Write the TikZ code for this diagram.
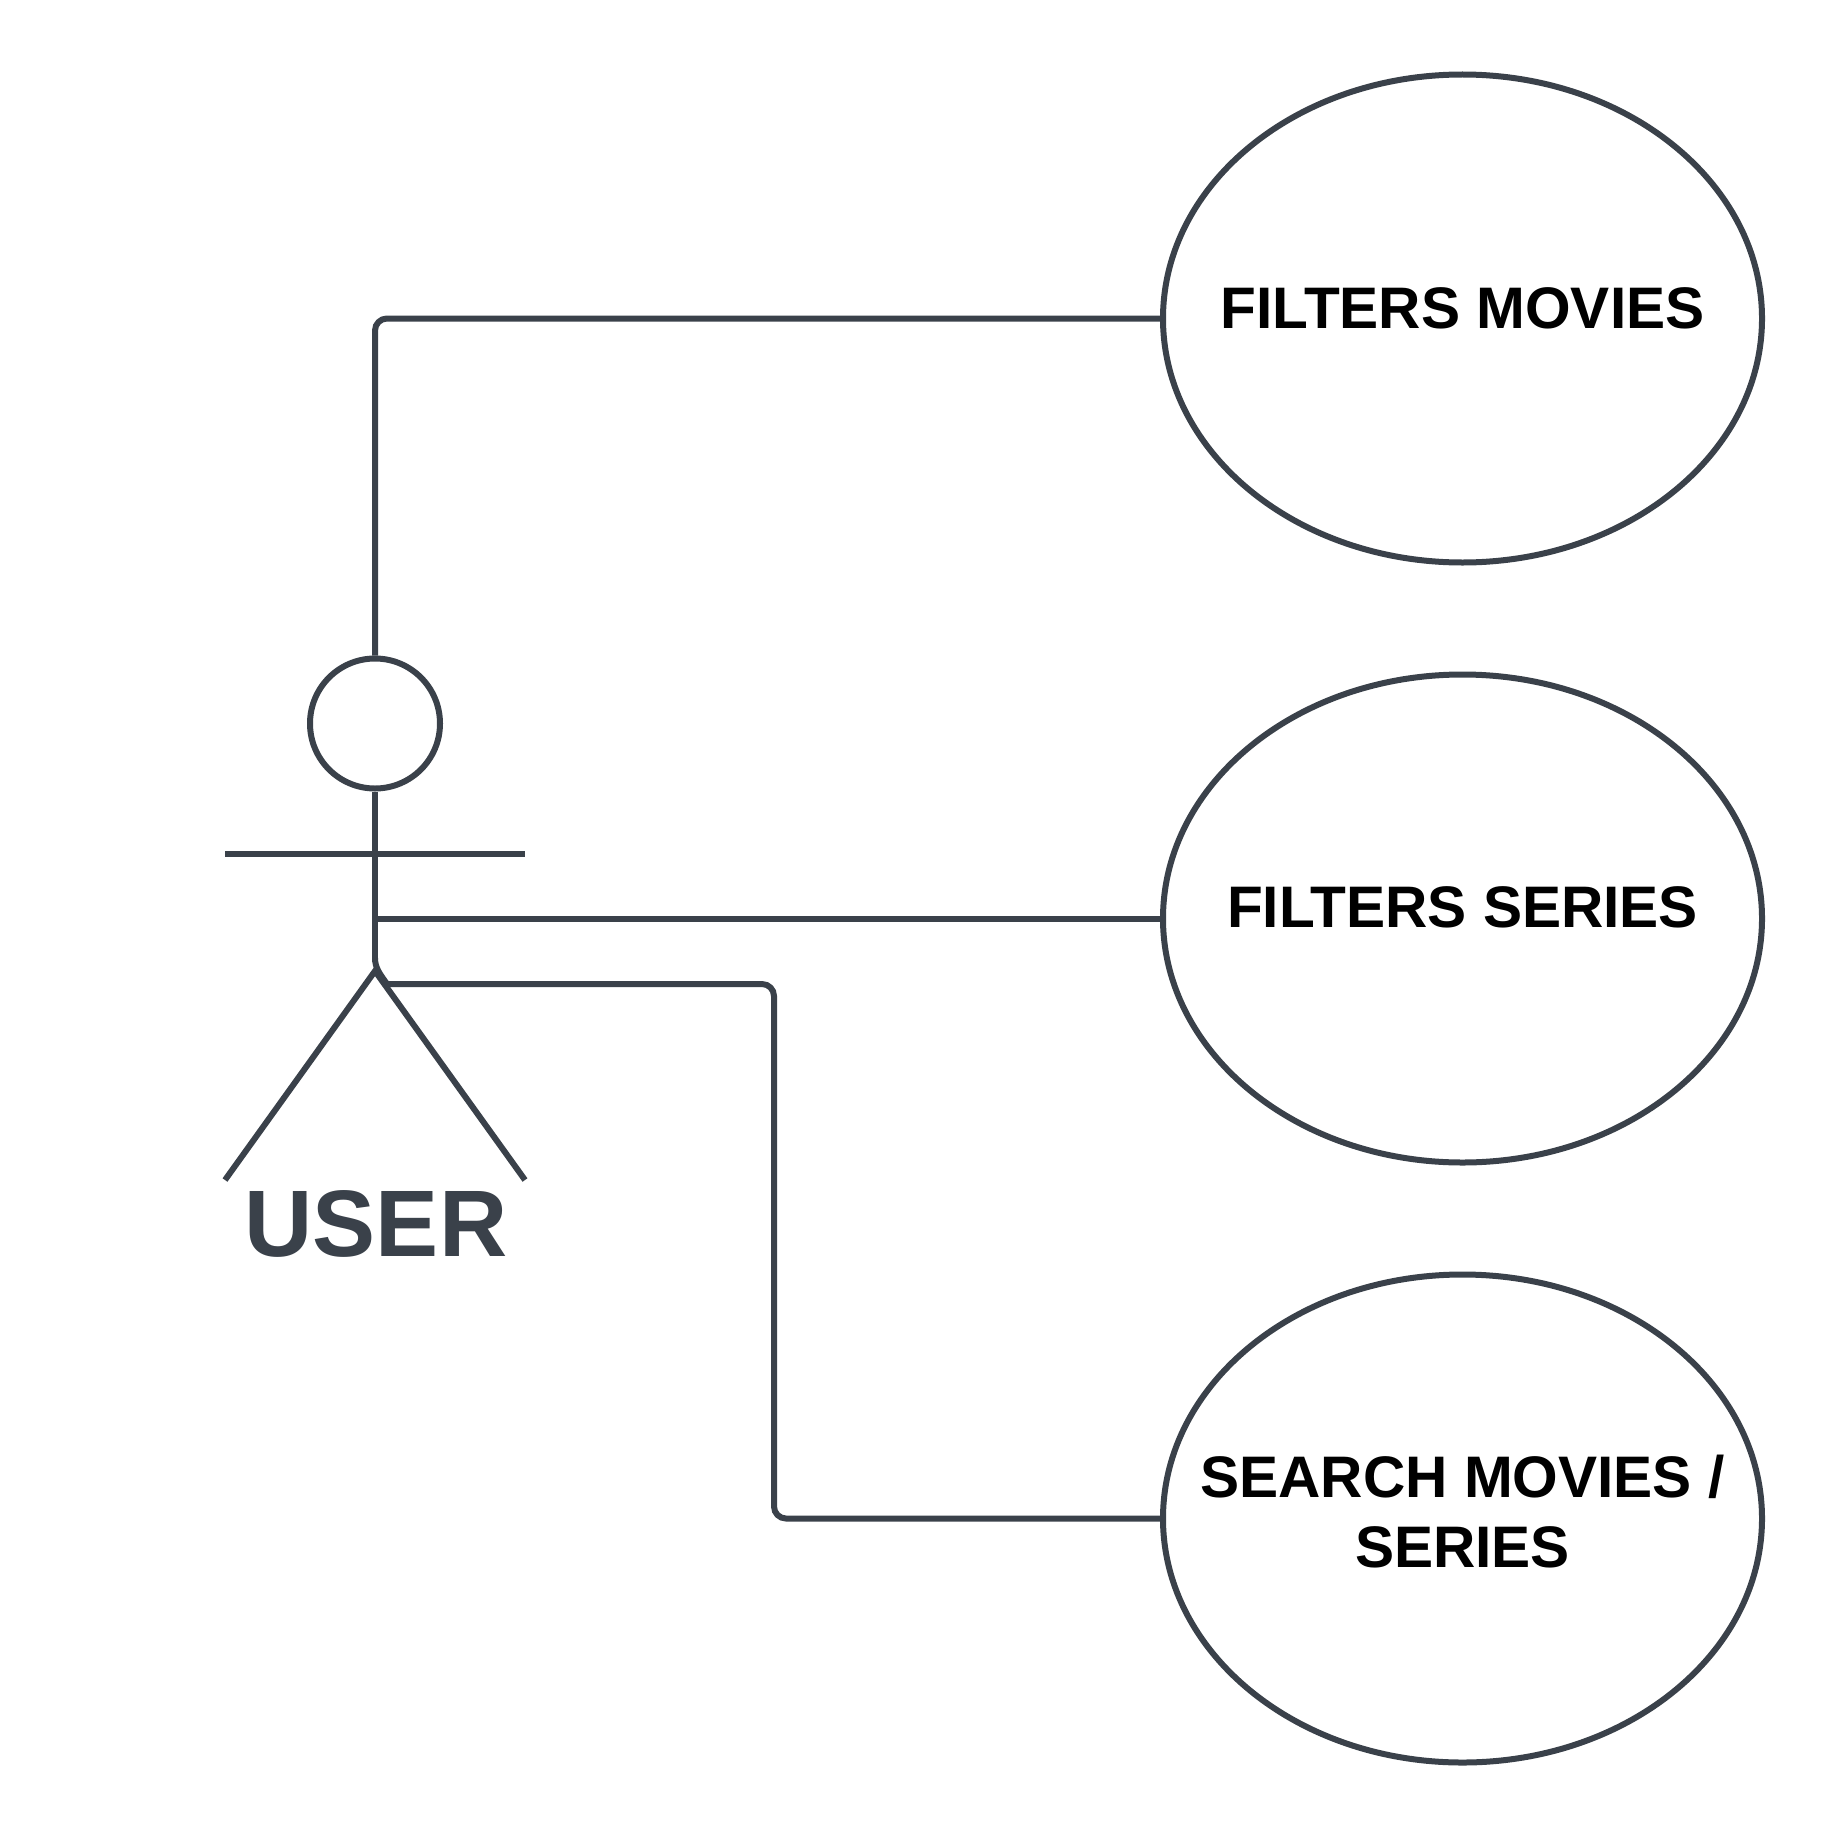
\documentclass[tikz,border=0pt]{standalone}
\usepackage{fontspec}
\setmainfont{Liberation Sans}
\usetikzlibrary{shapes.geometric}
\definecolor{ink}{HTML}{3A414A}
\tikzset{
  x=1pt,y=-1pt,
  uml/.style={draw=ink,line width=6pt},
  usecase/.style={uml,ellipse,minimum width=599pt,minimum height=488pt,inner sep=0pt},
  head/.style={uml,circle,minimum size=130pt,inner sep=0pt},
  caselabel/.style={anchor=base,font=\fontsize{58.6}{70}\selectfont\bfseries,text=black,inner sep=0pt,align=center},
  actorlabel/.style={anchor=base,font=\fontsize{94.5}{100}\selectfont\bfseries,text=ink,inner sep=0pt},
  link/.style={uml,rounded corners=12pt}
}
\begin{document}
\begin{tikzpicture}
\useasboundingbox (0,0) rectangle (1838,1838);
\node[usecase] (e1) at (1462.5,318.5) {};
\node[usecase] (e2) at (1462.5,918.5) {};
\node[usecase] (e3) at (1462.5,1518.5) {};
\node[head] (h) at (375,723.5) {};
\coordinate (shoulderL) at (225,854);
\coordinate (shoulderR) at (525,854);
\coordinate (hip) at (375,958);
\coordinate (crotch) at (375,971);
\coordinate (footL) at (225,1180);
\coordinate (footR) at (525,1180);
\coordinate (branch) at (375,918.5);
\coordinate (bend) at (387,984);
\draw[uml] (h.south) -- (hip);
\draw[uml] (shoulderL) -- (shoulderR);
\draw[uml] (footL) -- (crotch) -- (footR);
\draw[link] (h.north) |- (e1.west);
\draw[uml] (branch) -- (e2.west);
\draw[uml] (hip) .. controls (375,968) and (380,974) .. (bend);
\draw[link] (bend) -| (774,1518.5) -- (e3.west);
\node[actorlabel] (actor) at (376,1256.5) {USER};
\node[caselabel] (t1) at (1462.5,328) {FILTERS MOVIES};
\node[caselabel] (t2) at (1462.5,927.5) {FILTERS SERIES};
\node[caselabel] (t3) at (1462.5,1567) {SEARCH MOVIES /\\SERIES};
\end{tikzpicture}
\end{document}
